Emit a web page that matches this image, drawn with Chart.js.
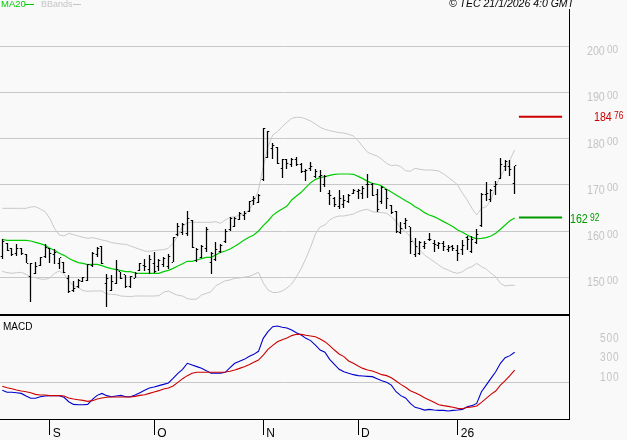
<!DOCTYPE html>
<html><head><meta charset="utf-8">
<style>
html,body{margin:0;padding:0;background:#f9f9f9;width:627px;height:440px;overflow:hidden}
canvas{position:absolute;left:0;display:block}
</style>
<script src="https://cdn.jsdelivr.net/npm/chart.js@4"></script>
</head><body>
<canvas id="price" width="627" height="316" style="top:0"></canvas>
<canvas id="macd" width="627" height="124" style="top:316px"></canvas>
<script>
const highs=[158.22,157.35,156.27,157.14,156.27,154.97,153.02,153.38,154.47,157.14,156.27,156.05,154.25,153.24,150.5,149.2,149.56,149.99,152.81,155.48,156.63,156.77,150.72,150.5,153.75,151.22,150.5,150.36,151.22,153.17,153.96,154.83,155.41,153.89,154.47,154.97,158.65,161.68,161.68,164.35,162.41,156.27,156.99,160.82,155.48,157.64,157.21,160.45,162.98,162.98,164.2,164.42,166.59,167.6,167.96,182.24,181.74,178.99,178.13,175.53,175.68,175.89,176.04,174.81,173.37,174.88,173.37,173.22,172.14,168.89,167.31,168.89,167.81,167.96,169.04,169.11,169.76,172.36,170.34,169.12,169.84,169.12,165.58,164.28,161.97,162.77,160.96,158.44,157.86,157.86,159.52,158.08,157.72,157.86,156.92,156.99,156.99,158.08,158.94,158.94,160.39,168.18,170.56,169.04,170.78,175.75,175.39,175.39,174.17];
const lows=[153.89,155.76,154.68,154.68,154.83,153.02,144.73,150.71,152.52,154.25,153.02,152.88,151.72,151,146.53,146.89,147.68,148.98,149.2,152.3,154.39,152.81,143.64,147.04,148.55,149.56,147.76,147.76,149.78,151.29,151.29,150.65,150.86,151.44,152.3,151.73,153.24,158.94,159.16,159.01,156.42,153.39,154.11,155.55,150.78,153.59,155.32,157.5,160.09,160.96,162.4,162.4,164.13,165.58,166.01,170.91,175.75,175.6,174.45,171.56,173.37,173.8,174.09,172.65,170.84,173.08,171.42,168.53,169.62,165.72,165.14,164.85,165.07,166.15,167.96,166.87,166.87,167.09,167.6,164.21,165.94,164.79,163.78,159.66,159.3,160.39,155.12,154.33,154.83,156.13,157.86,155.41,156.13,155.7,155.55,155.77,153.6,154.83,155.91,155.19,157.21,160.89,166.59,166.37,167.82,171.28,173.01,171.93,168.11];
const opens=[154.47,157.35,156.13,155.19,156.13,154.97,150.14,150.86,152.66,154.47,156.13,154.83,153.02,153.24,149.78,147.25,147.97,149.05,149.2,152.66,154.83,156.63,148.7,147.25,148.7,151.22,150.5,147.98,149.78,151.37,152.45,151.58,153.03,152.3,152.67,152.3,153.24,159.16,159.66,159.38,162.19,153.53,154.32,156.13,153.1,153.96,155.48,157.64,160.24,161.1,162.55,163.48,164.28,166.73,166.15,171.06,175.89,177.91,178.13,173.58,175.39,174.31,175.39,174.31,172.86,173.58,171.78,171.78,169.98,168.17,167.09,165.29,165.65,166.37,168.17,168.53,168.17,169.98,169.98,167.82,166.37,168.9,165.44,164.14,159.66,161.68,160.96,154.83,155.19,156.63,158.08,157.36,156.99,157.36,155.91,156.63,155.77,155.91,158.65,155.55,157.5,161.11,167.82,166.74,169.62,171.42,173.95,173.95,170.34];
const closes=[157.71,155.76,154.83,156.27,155.19,153.02,153.02,152.3,154.32,156.41,155.19,155.4,154.25,151,146.89,147.61,149.27,149.99,152.81,155.19,156.27,152.95,149.78,149.06,151.58,149.64,147.98,150.14,150.86,153.03,152.3,153.75,151.22,153.6,154.11,154.47,158.65,160.96,161.32,162.77,156.49,156.06,156.63,160.24,155.05,155.91,156.78,160.02,162.76,162.76,163.84,163.84,166.37,167.09,167.6,182.24,181.52,178.63,174.67,175.39,174.67,175.53,174.31,172.86,173.22,173.94,172.86,172.14,171.78,167.81,165.65,167.09,166.73,167.6,168.75,168.75,169.25,169.98,167.81,164.57,169.48,167.1,163.99,159.81,160.6,162.26,157.72,156.63,157.5,157.21,158.22,157.14,157.21,156.63,156.49,156.27,155.19,156.99,158.22,158.08,159.16,167.82,168.18,168.76,169.98,174.31,175.03,173.23,174.17];
const ma20=[158.22,158,158,158,158,158,157.86,157.57,157.28,156.92,156.27,155.84,155.19,154.75,154.11,153.6,153.17,153.02,152.74,152.81,152.81,152.52,152.16,151.87,151.65,151.44,151.22,151.22,150.93,150.86,150.86,150.86,150.86,150.86,151.22,151.51,151.94,152.45,152.95,153.46,153.46,153.75,154.03,154.32,154.33,154.83,155.41,155.69,156.13,156.71,157.36,158.07,158.66,159.16,160.02,161.17,162.19,163.4,164.2,164.78,165.43,166.73,167.6,168.39,169.47,170.48,171.2,171.56,171.78,172.07,172.29,172.36,172.36,172.36,172.29,171.85,171.35,170.77,170.34,170.13,169.77,169.04,168.47,167.82,167.24,166.59,166.01,165.29,164.71,163.99,163.49,163.13,162.62,162.05,161.54,160.96,160.24,159.74,159.16,158.65,158.37,158.44,158.58,158.94,159.52,160.39,161.32,162.26,162.84];
const bbUpper=[164.93,164.93,164.93,164.93,164.93,164.93,165.22,165.29,164.78,164.21,162.76,160.6,159.16,158.94,159.52,159.23,158.94,158.65,158.43,158.58,158.36,158.07,157.86,157.5,157.35,157.21,157.14,156.78,156.41,156.05,155.69,155.62,155.77,155.91,155.98,156.27,157.35,158.94,160.96,161.83,161.9,161.9,161.9,161.9,161.9,162.04,161.68,162.4,162.98,163.12,163.41,163.7,164.56,166.15,168.89,173.94,178.27,180.8,181.52,182.6,183.54,184.41,184.62,184.62,184.26,183.83,183.18,182.46,182.03,181.74,181.52,181.3,181.23,180.94,180.58,179.57,178.27,177.05,176.61,176.26,175.54,174.67,174.17,174.31,173.95,173.08,172.94,173.59,173.37,173.23,173.23,173.16,173.01,172.36,171.64,170.85,169.98,168.18,166.73,164.93,163.49,164.93,165.29,166.73,169.62,171.79,173.59,175.39,177.56];
const bbLower=[151.29,151,150.86,151,151.08,150.64,150.07,149.92,149.63,149.56,149.85,150.86,151.36,150.71,149.27,148.12,147.76,147.11,146.96,147.04,147.04,147.04,146.39,146.31,146.24,145.95,145.88,145.81,145.95,145.95,145.95,145.95,145.95,146.02,146.75,147.04,146.53,146.1,145.95,145.38,145.23,145.3,146.17,146.53,146.88,148.18,148.7,149.26,149.42,149.78,149.85,150.06,150.17,150.61,151.08,148.77,147.25,146.71,146.71,147.03,147.68,148.55,150.13,151.9,154.07,156.56,159.37,160.89,161.32,162.4,162.98,163.27,163.27,163.48,163.7,164.2,164.56,164.71,164.2,164.07,163.99,163.85,163.13,162.05,160.6,159.88,158.8,156.99,155.91,154.83,154.11,153.39,152.67,151.94,151.58,151.08,150.86,151.22,151.94,152.3,153.03,152.3,151.8,150.86,150.14,148.7,148.12,148.26,148.26];
const macdLine=[-82,-102,-102,-106,-113,-140,-163,-163,-147,-140,-136,-136,-136,-153,-198,-225,-228,-228,-225,-174,-133,-113,-136,-147,-140,-133,-147,-147,-130,-106,-82,-58,-48,-34,-21,-7,40,92,132,194,177,160,143,119,92,92,92,102,149,194,214,234,262,285,316,448,516,567,574,561,554,533,506,483,448,425,380,329,306,234,183,132,108,92,78,68,64,61,58,37,17,0,-28,-96,-136,-160,-215,-255,-266,-283,-276,-283,-286,-286,-293,-286,-283,-276,-249,-238,-215,-96,-28,40,108,194,251,272,306];
const signalLine=[-41,-55,-65,-79,-89,-96,-106,-123,-130,-130,-136,-136,-136,-140,-160,-170,-177,-184,-194,-187,-170,-160,-153,-150,-150,-150,-150,-150,-143,-133,-126,-113,-99,-85,-68,-58,-38,0,37,68,92,102,102,102,102,102,102,105,112,125,142,159,180,204,227,278,336,377,414,435,452,476,489,489,479,472,465,442,414,374,329,289,262,217,194,166,142,125,115,98,78,68,47,13,-21,-51,-85,-106,-130,-158,-181,-204,-228,-238,-245,-255,-266,-269,-255,-252,-242,-204,-164,-123,-89,-28,17,68,125];
const priceTicks=[150,160,170,180,190,200];
const priceDecimals='00';
const macdTicks=[100,300,500];
const dateTickIndex=[10,32,55,75,96];
const dateLabels=['S','O','N','D','26'];
const bandLabel=[184,'76'];
const maLabel=[162,'92'];
const bandLevel=184.76;
const maLevel=162.92;
const levelSpan=[108.9,118];
const stampText='© TEC 21/1/2026 4:0 GMT';

const SANS='"Liberation Sans",sans-serif';
const GRID='#c8c8c8', BLUE='#0000cc', RED='#cc0000', GREEN='#00cc00', DGREEN='#009900', BAND='#c8c8c8', LBL='#c4c4c4';
const X_MIN=-0.49, X_MAX=119.56;

function tickMark(side){
  const c=document.createElement('canvas');c.width=5;c.height=1;
  const g=c.getContext('2d');g.fillStyle='#000';
  g.fillRect(side<0?1:3,0,1,1);
  g.fillStyle='rgba(0,0,0,0.3)';
  g.fillRect(side<0?0:4,0,1,1);
  return c;
}
const idx=a=>a.map((v,i)=>({x:i,y:v}));
function lineDs(data,color,width,order){
  return {type:'line',data:idx(data),borderColor:color,borderWidth:width,pointRadius:0,tension:0,order,fill:false};
}
function levelDs(v,color){
  return {type:'line',data:levelSpan.map(x=>({x,y:v})),borderColor:color,borderWidth:2,pointRadius:0,order:4};
}
function txt(ctx,s,x,y,font,color,align,sx,spacing){
  ctx.save();
  ctx.translate(x,y);ctx.scale(sx||1,1);
  ctx.font=font;ctx.fillStyle=color;ctx.textAlign=align||'left';ctx.textBaseline='middle';
  ctx.letterSpacing=spacing||'0px';
  ctx.fillText(s,0,0);
  ctx.restore();
}
function rightWidth(s){s.width=627-569.5;}

const crispOhlc={id:'crispOhlc',beforeDatasetsDraw(ch){
  ch.data.datasets.forEach((ds,i)=>{
    if(ds.type==='bar'){
      ch.getDatasetMeta(i).data.forEach(el=>{
        el.x=Math.floor(el.x)+0.5;el.y=Math.round(el.y);el.base=Math.round(el.base);
      });
    }else if(ds.showLine===false){
      ch.getDatasetMeta(i).data.forEach(el=>{
        el.x=Math.floor(el.x)+0.5;el.y=Math.floor(el.y)+0.5;
      });
    }
  });
}};

const pricePlugin={id:'priceText',afterDraw(ch){
  const c=ch.ctx,y=ch.scales.y;c.save();
  priceTicks.forEach(v=>{
    const p=y.getPixelForValue(v);
    txt(c,String(v),587,p+5.4,'13px '+SANS,LBL,'left',0.82);
    txt(c,priceDecimals,607,p+3.8,'10px '+SANS,LBL);
  });
  const r=y.getPixelForValue(bandLevel),g=y.getPixelForValue(maLevel);
  txt(c,String(bandLabel[0]),594,r+1,'13px '+SANS,RED,'left',0.82);
  txt(c,bandLabel[1],614,r,'10px '+SANS,RED,'left',0.85);
  txt(c,String(maLabel[0]),570,g+1.4,'13px '+SANS,DGREEN,'left',0.82);
  txt(c,maLabel[1],590,g+1,'10px '+SANS,DGREEN,'left',0.85);
  txt(c,'MA20',1,4.5,'9.5px '+SANS,GREEN);
  txt(c,'BBands',41,4.5,'9px '+SANS,LBL);
  c.fillStyle=GREEN;c.fillRect(25,4,9,1);
  c.fillStyle=LBL;c.fillRect(73,4,8,1);
  txt(c,stampText,574,4.5,'italic 10.5px '+SANS,'#000','right');
  c.restore();
}};
const macdPlugin={id:'macdText',afterDraw(ch){
  const c=ch.ctx,y=ch.scales.y;c.save();
  txt(c,'MACD',3,11,'10px '+SANS,'#000');
  macdTicks.forEach(v=>{
    txt(c,String(v),600,y.getPixelForValue(v)+5,'12px '+SANS,LBL,'left',0.85,'1px');
  });
  c.restore();
}};

new Chart(document.getElementById('price'),{
  data:{datasets:[
    lineDs(bbUpper,BAND,1,6),
    lineDs(bbLower,BAND,1,6),
    lineDs(ma20,GREEN,1.2,5),
    levelDs(bandLevel,RED),
    levelDs(maLevel,DGREEN),
    {type:'bar',data:highs.map((h,i)=>({x:i,y:[lows[i],h]})),backgroundColor:'#000',barThickness:1.25,inflateAmount:0,order:2,grouped:false},
    {type:'line',data:idx(opens),showLine:false,pointStyle:tickMark(-1),pointRadius:3,order:1},
    {type:'line',data:idx(closes),showLine:false,pointStyle:tickMark(1),pointRadius:3,order:1}
  ]},
  options:{
    responsive:false,animation:false,devicePixelRatio:1,
    layout:{autoPadding:false,padding:{top:9,left:0,right:0,bottom:0}},
    plugins:{legend:{display:false},tooltip:{enabled:false}},
    scales:{
      x:{type:'linear',min:X_MIN,max:X_MAX,offset:false,
        grid:{display:false},ticks:{display:false},
        border:{display:true,color:'#000',width:2},
        afterFit(s){s.height=1;}},
      y:{position:'right',min:141.84,max:208.07,
        afterBuildTicks(s){s.ticks=priceTicks.map(value=>({value}));},
        grid:{color:GRID,lineWidth:1,drawTicks:false},
        border:{color:'#000',width:1},
        ticks:{display:false},
        afterFit:rightWidth}
    }
  },
  plugins:[crispOhlc,pricePlugin]
});

new Chart(document.getElementById('macd'),{
  data:{datasets:[
    lineDs(macdLine,BLUE,1.1,2),
    lineDs(signalLine,RED,1.1,1)
  ]},
  options:{
    responsive:false,animation:false,devicePixelRatio:1,
    layout:{autoPadding:false,padding:0},
    plugins:{legend:{display:false},tooltip:{enabled:false}},
    scales:{
      x:{type:'linear',min:X_MIN,max:X_MAX,offset:false,
        afterBuildTicks(s){s.ticks=dateTickIndex.map(value=>({value}));},
        grid:{display:true,drawOnChartArea:false,drawTicks:true,tickLength:16,color:'#000'},
        border:{display:true,color:'#000',width:1},
        ticks:{autoSkip:false,maxRotation:0,minRotation:0,align:'start',labelOffset:3,padding:-9,color:'#000',
          font:{family:'Liberation Sans',size:12},
          callback:(v,i)=>dateLabels[i]},
        afterFit(s){s.height=21;}},
      y:{position:'right',min:-374,max:676,
        afterBuildTicks(s){s.ticks=[{value:0}];},
        grid:{color:GRID,lineWidth:1,drawTicks:false},
        border:{color:'#000',width:1},
        ticks:{display:false},
        afterFit:rightWidth}
    }
  },
  plugins:[macdPlugin]
});
</script>
</body></html>
